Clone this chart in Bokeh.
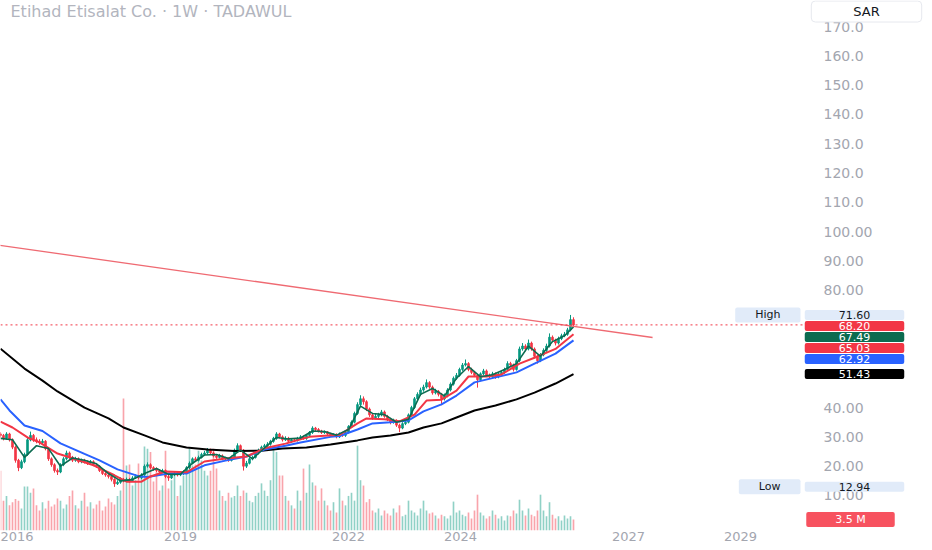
from bokeh.plotting import figure
from bokeh.models import Range1d, FixedTicker, Label, ColumnDataSource
from bokeh.embed import file_html
from bokeh.resources import INLINE

# ---------------- data ----------------
title_text = "Etihad Etisalat Co. · 1W · TADAWUL"
currency = "SAR"

first_open = 31.0
closes = [
    30.5, 29.5, 31.0, 29.0, 26.5, 22.0, 19.5, 21.5, 24.0, 29.0,
    30.5, 29.0, 28.5, 28.0, 28.5, 26.0, 22.5, 20.5, 18.5, 18.0,
    20.5, 22.5, 24.5, 23.0, 22.0, 22.5, 21.5, 22.0, 21.5, 21.0,
    21.5, 20.5, 20.0, 18.5, 17.5, 17.0, 16.5, 15.5, 14.0, 14.5,
    15.5, 15.0, 15.5, 15.0, 16.0, 16.5, 16.0, 17.0, 20.0, 20.5,
    19.5, 19.0, 18.5, 18.0, 18.5, 16.5, 16.0, 17.0, 17.5, 17.0,
    17.5, 18.0, 19.5, 21.0, 22.5, 22.0, 23.0, 24.0, 24.5, 25.5,
    24.5, 23.5, 23.0, 23.5, 22.5, 22.6, 22.0, 23.0, 25.5, 27.0,
    25.5, 20.0, 21.0, 22.5, 23.0, 24.5, 25.5, 26.5, 27.0, 27.5,
    28.5, 29.5, 31.0, 30.0, 29.0, 29.5, 28.5, 29.0, 28.8, 29.5,
    30.0, 29.5, 30.5, 31.5, 33.0, 32.5, 32.0, 31.5, 31.7, 31.0,
    30.5, 30.8, 30.0, 31.0, 30.5, 31.5, 33.5, 35.0, 38.0, 41.0,
    43.0, 42.0, 39.5, 37.5, 36.5, 37.0, 37.5, 38.5, 37.0, 36.0,
    35.0, 35.5, 34.0, 33.0, 34.5, 35.0, 37.5, 40.0, 43.0, 44.5,
    46.0, 47.0, 48.5, 47.0, 45.0, 45.5, 44.5, 43.0, 44.0, 46.0,
    48.0, 50.0, 51.0, 53.0, 54.5, 55.0, 53.0, 52.0, 51.0, 49.5,
    51.5, 52.5, 51.0, 50.5, 51.5, 50.5, 51.5, 52.0, 53.0, 55.0,
    54.5, 53.0, 56.0, 60.0, 61.0, 60.0, 62.0, 60.0, 57.5, 56.0,
    58.0, 59.5, 61.0, 64.0, 63.0, 62.0, 63.5, 64.5, 65.0, 66.5,
    70.0, 68.2,
]
highs = [
    31.6, 31.0, 31.6, 31.4, 29.5, 27.0, 22.5, 22.2, 24.6, 29.6,
    31.8, 31.0, 29.8, 29.2, 29.3, 28.9, 26.5, 23.0, 21.0, 19.2,
    21.0, 23.1, 25.3, 25.0, 23.5, 23.2, 23.0, 22.6, 22.5, 22.0,
    22.1, 22.0, 21.0, 20.4, 19.0, 18.0, 17.5, 17.0, 15.9, 15.2,
    16.2, 16.0, 16.1, 16.0, 16.6, 17.2, 17.0, 17.6, 20.6, 21.3,
    21.0, 20.0, 19.6, 19.0, 19.1, 18.9, 17.0, 17.5, 18.1, 18.0,
    18.0, 18.6, 20.0, 21.6, 23.0, 23.2, 23.6, 24.6, 25.2, 26.2,
    26.0, 25.0, 24.0, 24.2, 24.0, 23.2, 23.0, 23.6, 26.0, 27.8,
    27.4, 25.8, 21.8, 23.0, 23.6, 25.0, 26.0, 27.0, 27.6, 28.2,
    29.0, 30.0, 31.6, 31.4, 30.5, 30.2, 30.0, 29.6, 29.5, 30.0,
    30.6, 30.5, 31.0, 32.0, 33.6, 33.4, 33.0, 32.4, 32.2, 32.0,
    31.4, 31.2, 31.2, 31.5, 31.4, 32.0, 34.0, 35.6, 38.6, 41.8,
    44.2, 43.8, 42.5, 40.0, 38.0, 37.8, 38.2, 39.2, 39.0, 37.5,
    36.5, 36.2, 36.0, 34.5, 35.0, 35.6, 38.0, 40.6, 43.6, 45.2,
    46.8, 47.8, 49.6, 49.0, 47.5, 46.4, 46.0, 45.0, 44.8, 46.6,
    48.6, 50.6, 51.8, 53.6, 55.2, 56.4, 55.5, 53.6, 52.5, 51.5,
    52.0, 53.2, 53.0, 51.6, 52.2, 52.0, 52.0, 52.6, 53.6, 55.8,
    55.6, 55.0, 56.6, 60.8, 62.0, 61.6, 63.2, 62.5, 60.5, 58.0,
    58.6, 60.2, 61.8, 65.3, 64.6, 63.5, 64.2, 65.2, 65.8, 67.2,
    71.6, 70.8,
]
lows = [
    29.8, 28.8, 29.0, 28.4, 25.8, 21.2, 18.3, 19.0, 21.0, 23.5,
    28.5, 28.3, 27.8, 27.3, 27.5, 25.4, 21.8, 19.8, 17.8, 17.0,
    17.6, 20.0, 22.0, 22.4, 21.4, 21.5, 21.0, 21.0, 20.9, 20.4,
    20.6, 20.0, 19.4, 18.0, 17.0, 16.4, 15.8, 14.8, 12.94, 13.6,
    14.0, 14.5, 14.6, 14.4, 14.7, 15.6, 15.5, 15.6, 16.7, 19.5,
    19.0, 18.4, 18.0, 17.4, 17.6, 15.9, 15.0, 15.6, 16.6, 16.5,
    16.6, 17.0, 17.6, 19.0, 20.6, 21.5, 21.6, 22.6, 23.6, 24.0,
    24.0, 23.0, 22.5, 22.6, 22.0, 21.8, 21.5, 21.6, 22.7, 25.0,
    25.0, 18.5, 19.4, 20.6, 22.0, 22.6, 24.0, 25.0, 26.0, 26.5,
    27.0, 28.0, 29.0, 29.5, 28.4, 28.6, 28.0, 28.0, 28.2, 28.4,
    29.0, 29.0, 29.0, 30.0, 31.0, 32.0, 31.5, 31.0, 31.0, 30.5,
    30.0, 30.0, 29.5, 29.6, 30.0, 30.0, 31.2, 33.0, 34.6, 37.5,
    40.5, 41.0, 38.8, 36.8, 35.8, 36.0, 36.4, 37.0, 36.5, 35.4,
    34.3, 34.5, 33.4, 31.6, 32.6, 34.0, 34.6, 37.0, 39.5, 42.5,
    44.0, 45.4, 46.5, 46.4, 44.4, 44.5, 43.8, 40.8, 42.4, 43.5,
    45.5, 47.5, 49.5, 50.5, 52.5, 54.0, 52.4, 51.4, 50.4, 46.8,
    49.0, 51.0, 50.4, 49.8, 50.0, 49.8, 50.0, 51.0, 51.5, 52.6,
    53.8, 52.3, 52.6, 55.5, 59.4, 59.2, 59.5, 59.4, 56.8, 55.0,
    55.5, 57.5, 59.0, 60.5, 62.4, 61.2, 61.5, 63.0, 64.0, 64.5,
    66.0, 67.6,
]
volumes_m = [
    19, 9.5, 11, 8, 9, 10, 9.5, 7, 14, 14,
    12, 13.4, 8, 6.4, 9, 7, 9.5, 7.6, 8.3, 10.2,
    9.5, 7, 8.3, 11, 12.7, 8, 7, 9.5, 12, 7.6,
    9, 7, 8.3, 9.5, 6.4, 7.6, 10.2, 9, 8.3, 11,
    12.7, 42, 20.7, 21, 14.3, 16, 21.3, 17.5, 26.7, 26,
    25, 15.6, 18.8, 12.7, 14.3, 25.4, 13.4, 16, 17.5, 11,
    14.3, 17.5, 19, 26, 20.7, 21, 25.4, 22.3, 19, 17.5,
    19, 26, 19.7, 12.7, 11, 9.5, 12, 10.5, 11, 14.3,
    11, 12.7, 12, 9.5, 9, 11, 12, 15, 12.7, 11,
    16, 26, 25, 17.5, 17.5, 11, 9.5, 8, 7, 12.7,
    9.5, 19.7, 12, 21, 15.3, 14.3, 9.5, 13.4, 9.5, 8,
    6.4, 9, 5.7, 13.4, 9.5, 8, 11, 12, 9.5, 27,
    16, 14.3, 9, 10, 6.4, 5.7, 7, 4.8, 6.4, 5.4,
    4.8, 7, 5.7, 8, 4.5, 5, 9.5, 6.4, 5.7, 4.8,
    7, 9.5, 6.4, 5.4, 5.7, 4.8, 3.8, 5, 4.5, 3.8,
    4.8, 9.2, 5.7, 6.4, 5, 4.5, 5.7, 3.8, 6.4, 11.4,
    5.7, 4.8, 3.8, 4.5, 6.4, 5, 3.8, 4.5, 3.2, 4.8,
    4.5, 6.4, 5.4, 9.8, 6.4, 4.8, 7, 5, 4.5, 6.4,
    11.4, 6.4, 4.5, 9, 5, 3.8, 4.5, 3.2, 4.8, 3.8,
    4.5, 3.5,
]

# moving-average lines, read at a few bars (bar index, value)
ma_black_bar = [0, 8, 14, 19, 28, 36, 41, 48, 54, 62, 69, 78, 87, 94, 102, 110, 119, 124,
                130, 136, 141, 147, 152, 158, 165, 172, 178, 185, 191]
ma_black = [60.1, 53.3, 49.2, 45.5, 40.0, 36.3, 33.2, 30.5, 28.1, 26.4, 25.7, 25.2, 25.3, 26.0,
            26.4, 27.4, 28.8, 29.8, 30.5, 31.5, 33.2, 34.6, 36.6, 39.0, 40.7, 42.8, 45.1, 48.2, 51.43]
ma_blue_bar = [0, 3, 8, 14, 20, 28, 33, 39, 46, 49, 56, 62, 68, 75, 82, 88, 95, 100, 110, 113,
               119, 124, 130, 136, 141, 147, 152, 158, 165, 172, 178, 185, 191]
ma_blue = [42.8, 39.0, 33.9, 32.0, 27.8, 24.2, 22.0, 18.9, 16.6, 16.3, 17.5, 17.5, 20.3, 21.9,
           23.3, 25.7, 27.0, 28.1, 30.0, 30.3, 32.5, 34.6, 35.0, 35.6, 38.7, 41.1, 44.1, 48.6,
           50.3, 52.0, 55.0, 58.4, 62.92]
ma_red_bar = [0, 4, 9, 13, 19, 24, 31, 38, 42, 47, 50, 55, 62, 68, 75, 82, 88, 95, 103, 113,
              119, 122, 128, 133, 138, 142, 147, 152, 156, 162, 167, 173, 178, 185, 191]
ma_red = [35.2, 33.2, 29.8, 28.1, 24.3, 22.7, 20.3, 16.9, 14.7, 14.7, 16.5, 18.2, 17.9, 21.6,
          22.6, 23.3, 26.1, 27.7, 30.0, 30.7, 34.6, 36.3, 36.0, 35.3, 37.6, 42.4, 42.7, 45.8,
          50.6, 50.6, 51.3, 55.0, 57.0, 60.0, 65.03]
ma_green_bar = [0, 4, 8, 12, 16, 20, 24, 28, 32, 36, 40, 44, 48, 52, 56, 60, 64, 68, 72, 76,
                80, 84, 88, 92, 96, 100, 104, 108, 112, 116, 120, 124, 128, 132, 136, 140, 144,
                148, 152, 156, 160, 164, 168, 172, 176, 180, 184, 188, 191]
ma_green = [29.5, 29.0, 23.0, 27.0, 26.0, 20.0, 22.8, 22.0, 20.8, 17.5, 15.0, 15.4, 17.5, 19.2,
            17.2, 17.3, 21.0, 23.8, 24.0, 22.6, 25.5, 22.5, 26.2, 29.8, 29.3, 29.6, 32.0, 31.8,
            30.6, 32.5, 40.5, 38.0, 37.6, 35.0, 36.0, 44.5, 46.5, 44.0, 50.0, 54.0, 50.5, 51.2,
            53.0, 55.0, 61.0, 57.5, 62.5, 64.5, 67.49]

# drawn trend line (year, price)
trend_year = [2015.60, 2027.43]
trend_price = [95.8, 63.9]

high_value = 71.60
low_value = 12.94
last_volume_text = "3.5 M"

x_tick_years = [2016, 2019, 2022, 2024, 2027, 2029]
y_tick_values = [10, 20, 30, 40, 80, 90, 100, 110, 120, 130, 140, 150, 160, 170]
y_tick_labels = ["10.00", "20.00", "30.00", "40.00", "80.00", "90.00", "100.00",
                 "110.0", "120.0", "130.0", "140.0", "150.0", "160.0", "170.0"]

# ---------------- layout / scales ----------------
FONT = "DejaVu Sans"
PX_PER_YEAR = 56.0
X_OF_2024 = 460.0
PX_PER_UNIT = 2.931
Y_OF_ZERO = 524.3
VOL_M_PER_PX = 3.5 / 11.0

FRAME_W, FRAME_H = 928, 530
AXIS_H = 16
PRICE_LINE_END = 806
SCALE_LABEL_X = 823


def year_at(px):
    return 2024 + (px - X_OF_2024) / PX_PER_YEAR


def price_at(py):
    return (Y_OF_ZERO - py) / PX_PER_UNIT


BAR_START = year_at(0)
BAR_STEP = 3.0 / PX_PER_YEAR


def bar_year(i):
    return BAR_START + i * BAR_STEP


UP, DOWN = "#089981", "#f23645"

n = len(closes)
opens = [first_open] + closes[:-1]
xs = [bar_year(i) for i in range(n)]
colors = [UP if c >= o else DOWN for o, c in zip(opens, closes)]

src = ColumnDataSource(dict(
    x=xs, open=opens, close=closes, high=highs, low=lows, vol=volumes_m,
    top=[max(o, c) for o, c in zip(opens, closes)],
    bottom=[min(o, c) for o, c in zip(opens, closes)],
    color=colors,
))

p = figure(
    frame_width=FRAME_W, frame_height=FRAME_H,
    x_range=Range1d(year_at(0), year_at(FRAME_W)),
    y_range=Range1d(price_at(FRAME_H), price_at(0)),
    y_axis_location="right",
    toolbar_location=None, output_backend="svg",
    min_border_left=0, min_border_top=0, min_border_right=0, min_border_bottom=AXIS_H,
    background_fill_color="white", border_fill_color="white",
    outline_line_color=None,
)
p.extra_y_ranges = {"vol": Range1d(0, FRAME_H * VOL_M_PER_PX)}
p.grid.visible = False

# volume
p.vbar(x="x", top="vol", bottom=0, width=BAR_STEP * 0.55, source=src,
       fill_color="color", line_color=None, fill_alpha=0.45, y_range_name="vol")

# candles
p.segment(x0="x", x1="x", y0="low", y1="high", source=src, line_color="color", line_width=1)
p.vbar(x="x", top="top", bottom="bottom", width=BAR_STEP * 0.6, source=src,
       fill_color="color", line_color="color", line_width=0.8)

# moving averages
p.line([bar_year(i) for i in ma_black_bar], ma_black, line_color="#000000", line_width=2)
p.line([bar_year(i) for i in ma_blue_bar], ma_blue, line_color="#2962ff", line_width=2)
p.line([bar_year(i) for i in ma_red_bar], ma_red, line_color="#f23645", line_width=2)
p.line([bar_year(i) for i in ma_green_bar], ma_green, line_color="#0c6b50", line_width=1.6)

# trend line and last price line
p.line(trend_year, trend_price, line_color="#ef6a72", line_width=1.3)
p.line([year_at(0), year_at(PRICE_LINE_END)], [closes[-1], closes[-1]],
       line_color="#f23645", line_width=1, line_dash="2 3")

# axes
xa = p.xaxis[0]
xa.ticker = FixedTicker(ticks=x_tick_years)
xa.major_label_overrides = {y: str(y) for y in x_tick_years}
xa.axis_line_color = None
xa.major_tick_line_color = None
xa.minor_tick_line_color = None
xa.major_tick_out = 0
xa.major_tick_in = 0
xa.major_label_standoff = 1
xa.major_label_text_font = FONT
xa.major_label_text_font_size = "13px"
xa.major_label_text_color = "#a3a6af"

ya = p.yaxis[0]
ya.ticker = FixedTicker(ticks=y_tick_values)
ya.major_label_overrides = dict(zip(y_tick_values, y_tick_labels))
ya.axis_line_color = None
ya.major_tick_line_color = None
ya.minor_tick_line_color = None
ya.major_tick_out = 0
ya.major_tick_in = 0
ya.major_label_standoff = SCALE_LABEL_X - FRAME_W
ya.major_label_text_font = FONT
ya.major_label_text_font_size = "14px"
ya.major_label_text_color = "#a3a6af"

# title and currency
p.add_layout(Label(x=year_at(10), y=price_at(11), text=title_text, text_align="left",
                   text_baseline="middle", text_font=FONT, text_font_size="16px",
                   text_color="#b2b5be"))
p.add_layout(Label(x=year_at(866), y=price_at(11), text=currency, text_align="center",
                   text_baseline="middle", text_font=FONT, text_font_size="13px",
                   text_color="#131722", background_fill_color="white",
                   border_line_color="#e6e8ee", border_radius=4, padding=(42, 3)))

# price-scale labels (stacked so that they do not overlap)
LIGHT = "#e1ebf9"
label_specs = [
    (high_value, LIGHT, "#131722", "High"),
    (closes[-1], "#f23645", "white", None),
    (ma_green[-1], "#0c6b50", "white", None),
    (ma_red[-1], "#f23645", "white", None),
    (ma_blue[-1], "#2962ff", "white", None),
    (ma_black[-1], "#000000", "white", None),
    (low_value, LIGHT, "#131722", "Low"),
]
gap = 11.0 / PX_PER_UNIT
prev = None
for value, bg, fg, tag in label_specs:
    ypos = value if prev is None else min(value, prev - gap)
    prev = ypos
    p.add_layout(Label(x=year_at(854), y=ypos, text=f"{value:.2f}", text_align="center",
                       text_baseline="middle", text_font=FONT, text_font_size="11px",
                       text_color=fg, background_fill_color=bg, border_radius=2,
                       padding=(34, 1)))
    if tag:
        p.add_layout(Label(x=year_at(800), y=ypos, text=tag, text_align="right",
                           text_baseline="middle", text_font=FONT, text_font_size="11px",
                           text_color=fg, background_fill_color=bg, border_radius=2,
                           padding=(20, 1)))

p.add_layout(Label(x=year_at(850), y=volumes_m[-1], y_range_name="vol", text=last_volume_text,
                   text_align="center", text_baseline="middle", text_font=FONT,
                   text_font_size="11px", text_color="white", background_fill_color="#f7525f",
                   border_radius=2, padding=(29, 1)))

open("out.html", "w").write(file_html(p, INLINE))
